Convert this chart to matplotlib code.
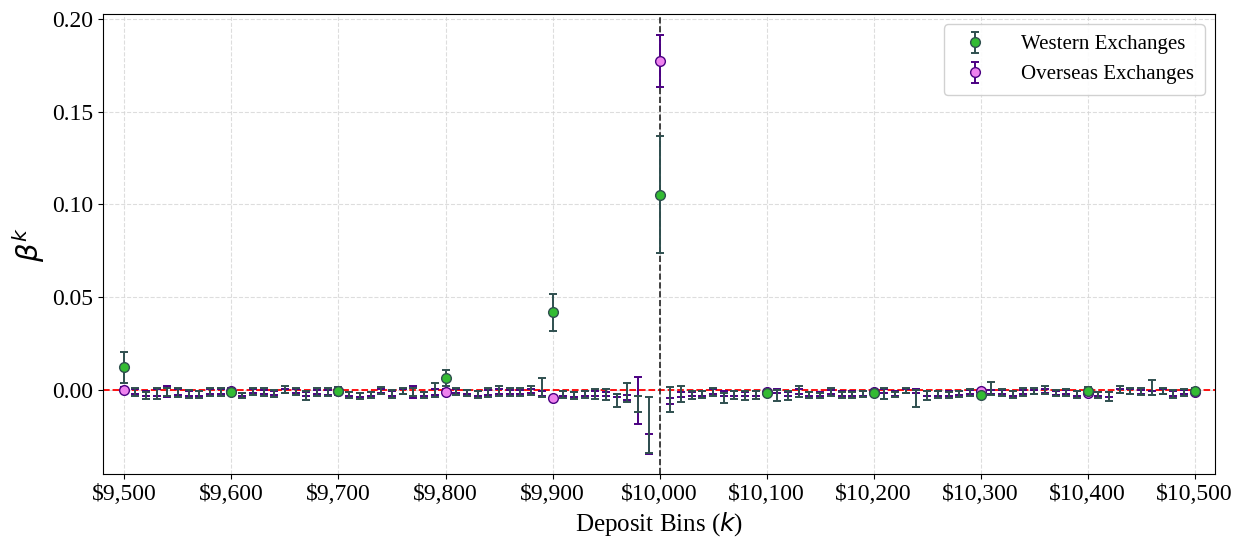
import numpy as np
import matplotlib
matplotlib.use("Agg")
import matplotlib.pyplot as plt

plt.rcParams['font.family'] = ['Liberation Serif', 'DejaVu Serif']
plt.rcParams['mathtext.fontset'] = 'dejavusans'

# Deposit bins ($10 wide) from $9,500 to $10,500
bins = np.arange(9500, 10501, 10)

western_beta = [
    0.0122, -0.0013, -0.0030, -0.0020, -0.0012, -0.0015, -0.0022, -0.0025, -0.0010, -0.0012,
    -0.0010, -0.0032, -0.0008, -0.0010, -0.0020, 0.0003, -0.0008, -0.0030, -0.0013, -0.0013,
    -0.0005, -0.0027, -0.0033, -0.0027, -0.0002, -0.0023, -0.0005, -0.0010, -0.0027, 0.0000,
    0.0065, -0.0008, -0.0015, -0.0023, -0.0012, -0.0004, -0.0009, -0.0009, -0.0002, 0.0013,
    0.0420, -0.0023, -0.0030, -0.0025, -0.0020, -0.0025, -0.0057, -0.0013, -0.0075, -0.0190,
    0.1053, -0.0051, -0.0020, -0.0027, -0.0023, -0.0011, -0.0045, -0.0027, -0.0030, -0.0027,
    -0.0014, -0.0030, -0.0030, -0.0006, -0.0027, -0.0030, -0.0011, -0.0025, -0.0025, -0.0022,
    -0.0015, -0.0020, -0.0025, -0.0003, -0.0045, -0.0030, -0.0023, -0.0025, -0.0020, -0.0013,
    -0.0028, 0.0007, -0.0013, -0.0023, -0.0009, -0.0007, 0.0000, -0.0015, -0.0013, -0.0023,
    -0.0003, -0.0027, -0.0036, 0.0002, -0.0007, -0.0009, 0.0013, -0.0007, -0.0021, -0.0015,
    -0.0006,
]
western_err = [
    0.0083, 0.0022, 0.0017, 0.0030, 0.0020, 0.0025, 0.0022, 0.0020, 0.0020, 0.0020,
    0.0018, 0.0014, 0.0020, 0.0020, 0.0018, 0.0020, 0.0020, 0.0022, 0.0022, 0.0022,
    0.0020, 0.0018, 0.0015, 0.0018, 0.0020, 0.0022, 0.0018, 0.0020, 0.0018, 0.0036,
    0.0043, 0.0020, 0.0015, 0.0020, 0.0024, 0.0027, 0.0022, 0.0022, 0.0025, 0.0050,
    0.0100, 0.0018, 0.0018, 0.0020, 0.0027, 0.0030, 0.0034, 0.0050, 0.0043, 0.0150,
    0.0315, 0.0069, 0.0043, 0.0020, 0.0018, 0.0020, 0.0027, 0.0020, 0.0022, 0.0020,
    0.0015, 0.0030, 0.0022, 0.0030, 0.0014, 0.0016, 0.0020, 0.0016, 0.0016, 0.0014,
    0.0017, 0.0030, 0.0014, 0.0015, 0.0045, 0.0025, 0.0018, 0.0016, 0.0016, 0.0018,
    0.0015, 0.0034, 0.0018, 0.0018, 0.0022, 0.0016, 0.0023, 0.0015, 0.0018, 0.0018,
    0.0017, 0.0018, 0.0023, 0.0020, 0.0016, 0.0018, 0.0040, 0.0016, 0.0020, 0.0020,
    0.0016,
]

overseas_beta = [
    0.0000, -0.0008, -0.0020, -0.0015, -0.0010, -0.0012, -0.0018, -0.0020, -0.0008, -0.0010,
    -0.0005, -0.0025, -0.0006, -0.0010, -0.0015, -0.0005, -0.0006, -0.0022, -0.0010, -0.0012,
    -0.0008, -0.0022, -0.0028, -0.0022, -0.0006, -0.0018, -0.0008, -0.0009, -0.0022, -0.0010,
    -0.0009, -0.0006, -0.0012, -0.0018, -0.0012, -0.0008, -0.0010, -0.0012, -0.0006, -0.0020,
    -0.0043, -0.0018, -0.0024, -0.0020, -0.0018, -0.0022, -0.0030, -0.0040, -0.0057, -0.0290,
    0.1773, -0.0060, -0.0025, -0.0022, -0.0018, -0.0008, -0.0020, -0.0020, -0.0022, -0.0020,
    -0.0012, -0.0005, -0.0022, -0.0010, -0.0022, -0.0022, -0.0010, -0.0020, -0.0020, -0.0018,
    -0.0010, -0.0005, -0.0020, -0.0005, -0.0005, -0.0020, -0.0018, -0.0020, -0.0015, -0.0012,
    -0.0008, -0.0010, -0.0012, -0.0018, -0.0010, -0.0010, -0.0005, -0.0015, -0.0012, -0.0018,
    -0.0015, -0.0022, -0.0025, -0.0005, -0.0008, -0.0010, -0.0015, -0.0008, -0.0018, -0.0012,
    -0.0012,
]
overseas_err = [
    0.0015, 0.0012, 0.0012, 0.0020, 0.0030, 0.0015, 0.0012, 0.0012, 0.0014, 0.0013,
    0.0015, 0.0010, 0.0013, 0.0012, 0.0012, 0.0012, 0.0012, 0.0013, 0.0012, 0.0013,
    0.0015, 0.0012, 0.0010, 0.0012, 0.0012, 0.0012, 0.0012, 0.0032, 0.0012, 0.0015,
    0.0015, 0.0012, 0.0010, 0.0012, 0.0013, 0.0013, 0.0012, 0.0012, 0.0012, 0.0015,
    0.0010, 0.0012, 0.0012, 0.0012, 0.0012, 0.0012, 0.0010, 0.0012, 0.0129, 0.0053,
    0.0140, 0.0016, 0.0012, 0.0012, 0.0012, 0.0012, 0.0012, 0.0012, 0.0012, 0.0012,
    0.0012, 0.0012, 0.0012, 0.0014, 0.0010, 0.0012, 0.0012, 0.0012, 0.0012, 0.0012,
    0.0012, 0.0012, 0.0012, 0.0012, 0.0010, 0.0012, 0.0012, 0.0012, 0.0012, 0.0012,
    0.0012, 0.0012, 0.0012, 0.0012, 0.0012, 0.0012, 0.0012, 0.0012, 0.0012, 0.0012,
    0.0015, 0.0012, 0.0012, 0.0012, 0.0012, 0.0012, 0.0012, 0.0012, 0.0012, 0.0012,
    0.0012,
]

tick_bins = np.arange(9500, 10501, 100)
tick_labels = ['\\$9,500', '\\$9,600', '\\$9,700', '\\$9,800', '\\$9,900', '\\$10,000',
               '\\$10,100', '\\$10,200', '\\$10,300', '\\$10,400', '\\$10,500']

fig = plt.figure(figsize=(12.43, 5.43), dpi=100)
ax = fig.add_axes([0.0829, 0.1271, 0.8946, 0.8471])

o = ax.errorbar(bins, overseas_beta, yerr=overseas_err, fmt='o', markevery=10,
                color='#4b0082', ecolor='#4b0082', markerfacecolor='#ee82ee',
                markeredgecolor='#4b0082', markersize=7, capsize=3,
                elinewidth=1.4, capthick=1.4, label='Overseas Exchanges', zorder=3)
w = ax.errorbar(bins, western_beta, yerr=western_err, fmt='o', markevery=10,
                color='#2f4f4f', ecolor='#2f4f4f', markerfacecolor='#33bb33',
                markeredgecolor='#2f4f4f', markersize=7, capsize=3,
                elinewidth=1.4, capthick=1.4, label='Western Exchanges', zorder=3.2)
o[0].set_zorder(4)
w[0].set_zorder(5)

ax.axhline(0, color='red', linestyle='--', linewidth=1.3, zorder=2.5)
ax.axvline(10000, color='#222222', linestyle='--', linewidth=1.2, zorder=2.5)

ax.set_xlim(9480, 10519)
ax.set_ylim(-0.0453, 0.2027)
ax.set_xticks(tick_bins)
ax.set_xticklabels(tick_labels)
ax.set_yticks([0.0, 0.05, 0.10, 0.15, 0.20])
ax.set_yticklabels(['0.00', '0.05', '0.10', '0.15', '0.20'])
ax.tick_params(labelsize=17)

ax.grid(True, linestyle='--', color='#d5d5d5', alpha=0.8, linewidth=0.8)
ax.set_axisbelow(True)

ax.set_xlabel('Deposit Bins ($k$)', fontsize=18)
ax.set_ylabel(r'$\beta^k$', fontsize=21)

leg = ax.legend(handles=[w, o], loc='upper right', fontsize=15, framealpha=0.9,
                borderpad=0.5, labelspacing=0.5, handletextpad=1.2)

fig.savefig('out.png', dpi=100)
